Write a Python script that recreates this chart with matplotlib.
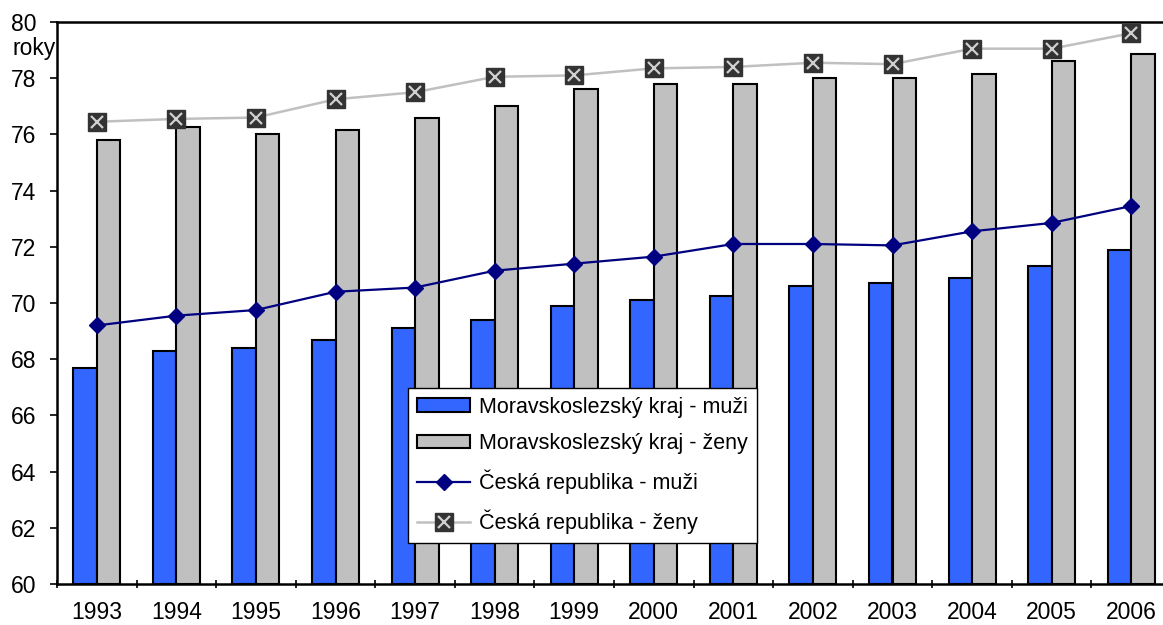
import numpy as np
import matplotlib.pyplot as plt

plt.rcParams['font.family'] = ['Liberation Sans', 'DejaVu Sans']

years = ['1993', '1994', '1995', '1996', '1997', '1998', '1999',
         '2000', '2001', '2002', '2003', '2004', '2005', '2006']
msk_muzi = [67.7, 68.3, 68.4, 68.7, 69.1, 69.4, 69.9, 70.1, 70.25, 70.6, 70.7, 70.9, 71.3, 71.9]
msk_zeny = [75.8, 76.25, 76.0, 76.15, 76.6, 77.0, 77.6, 77.8, 77.8, 78.0, 78.0, 78.15, 78.6, 78.85]
cr_muzi = [69.2, 69.55, 69.75, 70.4, 70.55, 71.15, 71.4, 71.65, 72.1, 72.1, 72.05, 72.55, 72.85, 73.45]
cr_zeny = [76.45, 76.55, 76.6, 77.25, 77.5, 78.05, 78.1, 78.35, 78.4, 78.55, 78.5, 79.05, 79.05, 79.6]

x = np.arange(len(years))
w = 0.295

fig = plt.figure(figsize=(11.63, 6.25), dpi=100)
ax = fig.add_axes([57/1163, 41/625, 1114/1163, 562/625])

b1 = ax.bar(x - w/2, np.array(msk_muzi) - 60, w, bottom=60, color='#3366ff',
            edgecolor='black', linewidth=1.5)
b2 = ax.bar(x + w/2, np.array(msk_zeny) - 60, w, bottom=60, color='#c0c0c0',
            edgecolor='black', linewidth=1.5)
l1, = ax.plot(x, cr_muzi, color='#000080', lw=1.6, marker='D', ms=8,
              mfc='#000080', mec='#000080')
l2, = ax.plot(x, cr_zeny, color='#c0c0c0', lw=1.8, marker='s', ms=13,
              mfc='#333333', mec='#333333', zorder=3)
l3, = ax.plot(x, cr_zeny, ls='none', marker='x', ms=9, mew=1.6,
              color='#d0d0d0', zorder=4)

ax.set_xlim(-0.5, len(years) - 0.5)
ax.set_ylim(60, 80)
ax.set_yticks(np.arange(60, 81, 2))
ax.tick_params(axis='y', labelsize=16.5, length=5, width=1.2, pad=10, direction='out')
ax.set_xticks(x)
ax.set_xticklabels(years)
ax.tick_params(axis='x', which='major', length=0, labelsize=16.5, pad=12)
ax.set_xticks(np.arange(-0.5, len(years) + 0.5, 1), minor=True)
ax.tick_params(axis='x', which='minor', length=6, width=1.2, direction='inout')

for s in ['left', 'bottom', 'top']:
    ax.spines[s].set_linewidth(1.8)
ax.spines['right'].set_visible(False)

fig.text(12/1163, 1 - 48/625, 'roky', fontsize=16.5, va='center', ha='left')

leg = ax.legend([b1, b2, l1, (l2, l3)],
                ['Moravskoslezský kraj - muži', 'Moravskoslezský kraj - ženy',
                 'Česká republika - muži', 'Česká republika - ženy'],
                loc='upper left', bbox_to_anchor=(408/1163, 1 - 388/625),
                bbox_transform=fig.transFigure, fontsize=15.5, frameon=True,
                fancybox=False, edgecolor='black', framealpha=1,
                borderpad=0.4, borderaxespad=0, labelspacing=0.72,
                handlelength=2.5, handleheight=0.6, handletextpad=0.4)
leg.get_frame().set_linewidth(1.0)

fig.savefig('out.png', dpi=100)
